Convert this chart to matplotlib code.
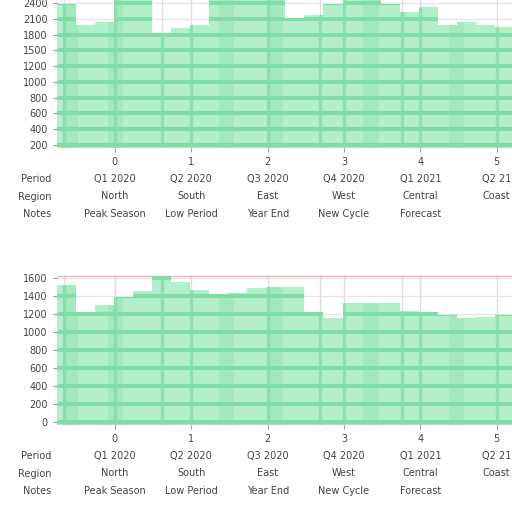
import numpy as np
import matplotlib.pyplot as plt

# values (0-100 scale, 24 columns per panel)
top_vals = [97, 83, 85, 100, 100, 78, 81, 83, 104, 104, 101, 104,
            88, 90, 97, 103, 103, 97, 92, 95, 83, 85, 83, 82]
bot_vals = [93, 75, 80, 85, 89, 99, 95, 90, 87, 88, 91, 92,
            92, 75, 71, 81, 81, 81, 76, 75, 73, 71, 72, 73]

top_yticks = ['2400', '2100', '1800', '1500', '1200', '1000', '800', '600', '400', '200']
bot_yticks = ['1600', '1400', '1200', '1000', '800', '600', '400', '200', '0']

xtick_labels = ['0\nQ1 2020\nNorth\nPeak Season',
                '1\nQ2 2020\nSouth\nLow Period',
                '2\nQ3 2020\nEast\nYear End',
                '3\nQ4 2020\nWest\nNew Cycle',
                '4\nQ1 2021\nCentral\nForecast',
                '5\nQ2 21\nCoast\n']
row_heads = ['Period', 'Region', 'Notes']

fill_c = '#b3f0ca'
band_c = '#96e5b5'
line_c = '#82dca6'


def panel(ax, vals, ylabels):
    n = len(vals)
    x = np.arange(n + 1) - 0.5
    y = np.append(vals, vals[-1])
    ax.set_xlim(-0.5, n - 0.6)
    ax.set_ylim(0, 100)
    poly = ax.fill_between(x, 0, y, step='post', color=fill_c, lw=0, zorder=1)
    clip = poly.get_paths()[0]
    # darker vertical bands
    for b in [0.2, 2.6, 8.4, 11.0, 16.0, 20.5]:
        r = ax.axvspan(b - 0.4, b + 0.4, color=band_c, alpha=0.55, lw=0, zorder=2)
        r.set_clip_path(clip, ax.transData)
    # grid, grey outside the fill, green inside
    yt = np.linspace(2, 98, len(ylabels))
    xt = np.linspace(2.55, 22.6, len(xtick_labels))
    for v in yt:
        ax.axhline(v, color='#e6e6e6', lw=1, zorder=0)
        g = ax.axhline(v, color=line_c, lw=3, zorder=3)
        g.set_clip_path(clip, ax.transData)
    for v in np.append(xt, [-0.1, 5.0, 13.3, 17.6]):
        ax.axvline(v, color='#e6dadd', lw=1, zorder=0)
        g = ax.axvline(v, color=line_c, lw=2.5, alpha=0.7, zorder=3)
        g.set_clip_path(clip, ax.transData)
    ax.set_yticks(yt)
    ax.set_yticklabels(ylabels[::-1], fontsize=7, color='#444444')
    ax.set_xticks(xt)
    ax.set_xticklabels(xtick_labels, fontsize=7, color='#444444', linespacing=1.9, va='top')
    ax.tick_params(length=3, color='#999999')
    for s in ax.spines.values():
        s.set_visible(False)
    ax.axhline(0, color='#bbbbbb', lw=1, zorder=4)
    for k, h in enumerate(row_heads):
        ax.annotate(h, xy=(0, 0), xycoords='axes fraction',
                    xytext=(-4, -(10 + 12.6 * (k + 1))), textcoords='offset points',
                    ha='right', va='center', fontsize=7, color='#444444')


fig = plt.figure(figsize=(5.12, 5.12), dpi=100)
ax1 = fig.add_axes([0.111, 0.711, 0.889, 0.289])
ax2 = fig.add_axes([0.111, 0.170, 0.889, 0.293])
panel(ax1, top_vals, top_yticks)
panel(ax2, bot_vals, bot_yticks)
ax2.axhline(99, color='#f0b8c0', lw=1, zorder=0)

fig.savefig('out.png', dpi=100)
